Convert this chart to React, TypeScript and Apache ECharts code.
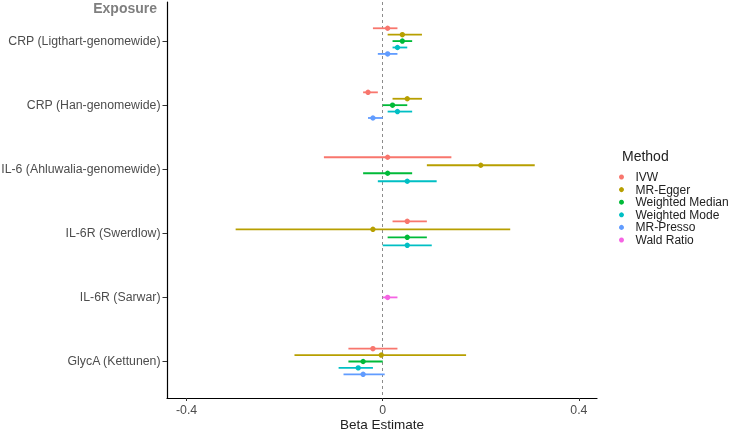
import React, { useEffect, useRef } from "react";
import * as echarts from "echarts";

const categories = [
  "CRP (Ligthart-genomewide)",
  "CRP (Han-genomewide)",
  "IL-6 (Ahluwalia-genomewide)",
  "IL-6R (Swerdlow)",
  "IL-6R (Sarwar)",
  "GlycA (Kettunen)",
];
const methods = ["IVW", "MR-Egger", "Weighted Median", "Weighted Mode", "MR-Presso", "Wald Ratio"];
const colors = ["#F8766D", "#B79F00", "#00BA38", "#00BFC4", "#619CFF", "#F564E3"];
const xTicks = [-0.4, 0, 0.4];

// per method, per category (null = not estimated)
const ivwBeta = [0.01, -0.03, 0.01, 0.05, null, -0.02];
const ivwLo = [-0.02, -0.04, -0.12, 0.02, null, -0.07];
const ivwHi = [0.03, -0.01, 0.14, 0.09, null, 0.03];

const eggerBeta = [0.04, 0.05, 0.2, -0.02, null, -0.003];
const eggerLo = [0.01, 0.02, 0.09, -0.3, null, -0.18];
const eggerHi = [0.08, 0.08, 0.31, 0.26, null, 0.17];

const wmedBeta = [0.04, 0.02, 0.01, 0.05, null, -0.04];
const wmedLo = [0.02, 0.0, -0.04, 0.01, null, -0.07];
const wmedHi = [0.06, 0.05, 0.06, 0.09, null, 0.0];

const wmodeBeta = [0.03, 0.03, 0.05, 0.05, null, -0.05];
const wmodeLo = [0.02, 0.01, -0.01, 0.0, null, -0.09];
const wmodeHi = [0.05, 0.06, 0.11, 0.1, null, -0.02];

const pressoBeta = [0.01, -0.02, null, null, null, -0.04];
const pressoLo = [-0.01, -0.03, null, null, null, -0.08];
const pressoHi = [0.03, 0.0, null, null, null, 0.004];

const waldBeta = [null, null, null, null, 0.01, null];
const waldLo = [null, null, null, null, 0.0, null];
const waldHi = [null, null, null, null, 0.03, null];

const betas = [ivwBeta, eggerBeta, wmedBeta, wmodeBeta, pressoBeta, waldBeta];
const los = [ivwLo, eggerLo, wmedLo, wmodeLo, pressoLo, waldLo];
const his = [ivwHi, eggerHi, wmedHi, wmodeHi, pressoHi, waldHi];

const DODGE = 0.5;

export default function App() {
  const ref = useRef<HTMLDivElement>(null);
  useEffect(() => {
    if (!ref.current) return;
    const chart = echarts.init(ref.current, null, { renderer: "svg" });

    const series: any[] = methods.map((m, mi) => {
      const data: any[] = [];
      categories.forEach((c, ci) => {
        if (betas[mi][ci] === null) return;
        const present = methods.map((_, k) => k).filter((k) => betas[k][ci] !== null);
        const n = present.length;
        const idx = present.indexOf(mi);
        const y = ci + 1 + (idx - (n - 1) / 2) * (DODGE / n);
        data.push([betas[mi][ci], y, los[mi][ci], his[mi][ci]]);
      });
      const color = colors[mi];
      const s: any = {
        name: m,
        type: "custom",
        itemStyle: { color },
        encode: { x: [0, 2, 3], y: 1 },
        data,
        z: 3,
        renderItem: (params: any, api: any) => {
          const y = api.value(1);
          const p = api.coord([api.value(0), y]);
          const l = api.coord([api.value(2), y]);
          const h = api.coord([api.value(3), y]);
          return {
            type: "group",
            children: [
              {
                type: "line",
                shape: { x1: l[0], y1: l[1], x2: h[0], y2: h[1] },
                style: { stroke: color, lineWidth: 1.8 },
              },
              {
                type: "circle",
                shape: { cx: p[0], cy: p[1], r: 2.7 },
                style: { fill: color },
              },
            ],
          };
        },
      };
      if (mi === 0) {
        s.markLine = {
          silent: true,
          symbol: ["none", "none"],
          label: { show: false },
          lineStyle: { type: [3, 3], color: "#8c8c8c", width: 1 },
          data: [{ xAxis: 0 }],
          z: 1,
        };
      }
      return s;
    });

    chart.setOption({
      animation: false,
      title: [
        {
          text: "Exposure",
          right: 740 - 157,
          top: 1,
          padding: 0,
          textStyle: { fontFamily: "Liberation Sans", fontSize: 14, fontWeight: "bold", color: "#7f7f7f" },
        },
        {
          text: "Method",
          left: 622,
          top: 149,
          padding: 0,
          textStyle: { fontFamily: "Liberation Sans", fontSize: 14, fontWeight: "normal", color: "#222" },
        },
      ],
      legend: {
        orient: "vertical",
        left: 619,
        top: 171,
        padding: 0,
        itemWidth: 18,
        itemHeight: 5,
        itemGap: 0.6,
        icon: "circle",
        data: methods,
        textStyle: { fontFamily: "Liberation Sans", fontSize: 12, color: "#222", lineHeight: 12 },
      },
      grid: { left: 167, right: 143, top: 2, bottom: 34, containLabel: false, outerBoundsMode: "none" },
      xAxis: {
        type: "value",
        min: -0.44,
        max: 0.437,
        splitLine: { show: false },
        axisLine: { show: true, onZero: false, lineStyle: { color: "#000", width: 1.2 } },
        axisTick: { show: true, length: 3, customValues: xTicks, lineStyle: { color: "#333" } },
        axisLabel: {
          customValues: xTicks,
          margin: 6,
          fontFamily: "Liberation Sans",
          fontSize: 12.3,
          color: "#4d4d4d",
          formatter: (v: number) => String(Math.round(v * 10) / 10),
        },
        name: "Beta Estimate",
        nameLocation: "middle",
        nameGap: 19,
        nameMoveOverlap: false,
        nameTextStyle: { fontFamily: "Liberation Sans", fontSize: 13.5, color: "#222", verticalAlign: "top", lineHeight: 14 },
      },
      yAxis: {
        type: "value",
        inverse: true,
        min: 0.39,
        max: 6.57,
        splitLine: { show: false },
        axisLine: { show: true, onZero: false, lineStyle: { color: "#000", width: 1.2 } },
        axisTick: { show: true, length: 4.5, customValues: [1, 2, 3, 4, 5, 6], lineStyle: { color: "#333" } },
        axisLabel: {
          customValues: [1, 2, 3, 4, 5, 6],
          margin: 6.5,
          fontFamily: "Liberation Sans",
          fontSize: 12.3,
          color: "#4d4d4d",
          formatter: (v: number) => categories[Math.round(v) - 1] ?? "",
        },
      },
      series,
    });
    return () => chart.dispose();
  }, []);
  return <div ref={ref} style={{ width: 740, height: 432, position: "fixed", left: 0, top: 0 }} />;
}
